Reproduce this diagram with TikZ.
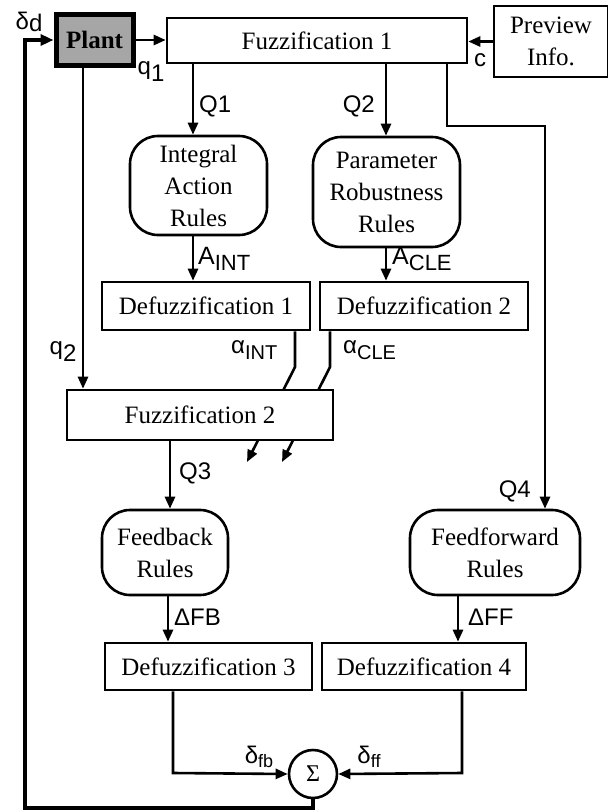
\documentclass[tikz,border=0pt]{standalone}
\usepackage{fontspec}
\setmainfont{Liberation Serif}
\newfontfamily\lsans{Liberation Sans}
\usetikzlibrary{arrows.meta}
\begin{document}
\begin{tikzpicture}[x=1pt,y=-1pt,
  box/.style={draw, line width=2.6pt, fill=white, inner sep=0pt, align=center, font=\fontsize{25}{32}\selectfont},
  rbox/.style={box, rounded corners=28pt},
  lbl/.style={inner sep=0pt, font=\lsans\fontsize{24}{24}\selectfont},
  con/.style={line width=2.6pt},
  arr/.style={con, -{Triangle[length=12pt,width=10pt]}},
  loopline/.style={line width=4.5pt, -{Triangle[length=13pt,width=11pt]}}
]
\useasboundingbox (0,0) rectangle (608,812);
% nodes
\node[box, line width=5pt, fill=black!35, minimum width=77pt, minimum height=51pt, font=\bfseries\fontsize{25}{30}\selectfont] (plant) at (94.5,40) {Plant};
\node[box, minimum width=300pt, minimum height=45pt] (fz1) at (317,40.5) {Fuzzification 1};
\node[box, minimum width=114pt, minimum height=71pt] (prev) at (551,41.5) {Preview\\Info.};
\node[rbox, minimum width=137pt, minimum height=99pt] (iar) at (198.5,185.5) {Integral\\Action\\Rules};
\node[rbox, minimum width=147pt, minimum height=110pt] (prr) at (386.5,192) {Parameter\\Robustness\\Rules};
\node[box, minimum width=208pt, minimum height=48pt] (df1) at (206,306) {Defuzzification 1};
\node[box, minimum width=208pt, minimum height=48pt] (df2) at (424,306) {Defuzzification 2};
\node[rbox, minimum width=126pt, minimum height=85pt] (fbr) at (165,552.5) {Feedback\\Rules};
\node[rbox, minimum width=170pt, minimum height=85pt] (ffr) at (495,552.5) {Feedforward\\Rules};
\node[box, minimum width=207pt, minimum height=47pt] (df3) at (208.5,666.5) {Defuzzification 3};
\node[box, minimum width=204pt, minimum height=47pt] (df4) at (424,666.5) {Defuzzification 4};
\node[circle, draw, line width=2.6pt, fill=white, minimum size=48pt, inner sep=0pt, font=\fontsize{24}{24}\selectfont] (sum) at (313,774) {Σ};
% helper coordinates
\coordinate (xq1) at (193,0);
\coordinate (xq2) at (386,0);
\coordinate (xq4) at (447,0);
\coordinate (k4) at (447,126);
\coordinate (k4b) at (545,126);
\coordinate (xp) at (83,0);
\coordinate (ka1) at (295,367);
\coordinate (ea1) at (247,462);
\coordinate (ka2) at (330,367);
\coordinate (ea2) at (282,462);
\coordinate (xq3) at (170,0);
\coordinate (xfb) at (168,0);
\coordinate (xff) at (458,0);
\coordinate (k3) at (173,773);
\coordinate (k4c) at (462,773);
\coordinate (lb) at (313,808);
\coordinate (lc) at (25,808);
\coordinate (ld) at (25,40);
% alpha lines pass under Fuzzification 2
\draw[arr] (df1.south -| ka1) -- (ka1) -- (ea1);
\draw[arr] (df2.south -| ka2) -- (ka2) -- (ea2);
\node[box, minimum width=266pt, minimum height=50pt] (fz2) at (200,415) {Fuzzification 2};
% connectors
\draw[arr] (plant.east) -- (plant.east -| fz1.west);
\draw[arr] (prev.west) -- (prev.west -| fz1.east);
\draw[arr] (fz1.south -| xq1) -- (iar.north -| xq1);
\draw[arr] (fz1.south -| xq2) -- (prr.north -| xq2);
\draw[arr] (fz1.south -| xq4) -- (k4) -- (k4b) -- (ffr.north -| k4b);
\draw[arr] (plant.south -| xp) -- (fz2.north -| xp);
\draw[arr] (iar.south -| xq1) -- (df1.north -| xq1);
\draw[arr] (prr.south -| xq2) -- (df2.north -| xq2);
\draw[arr] (fz2.south -| xq3) -- (fbr.north -| xq3);
\draw[arr] (fbr.south -| xfb) -- (df3.north -| xfb);
\draw[arr] (ffr.south -| xff) -- (df4.north -| xff);
\draw[arr] (df3.south -| k3) -- (k3) -- (sum.west);
\draw[arr] (df4.south -| k4c) -- (k4c) -- (sum.east);
\draw[loopline] (sum.south) -- (lb) -- (lc) -- (ld) -- (plant.west);
% labels
\node[lbl] (ldd) at (29,22) {δ\raisebox{-2pt}{d}};
\node[lbl] (lq1) at (151,72) {q\raisebox{-7pt}{1}};
\node[lbl] (lc) at (480,60) {c};
\node[lbl, anchor=west] (lQ1) at (199,106) {Q1};
\node[lbl, anchor=east] (lQ2) at (375,106) {Q2};
\node[lbl] (lq2) at (63,352) {q\raisebox{-7pt}{2}};
\node[lbl, anchor=west, font=\lsans\fontsize{25}{25}\selectfont] (laint) at (198,259) {A\raisebox{-6pt}{\fontsize{22}{22}\selectfont INT}};
\node[lbl, anchor=west, font=\lsans\fontsize{25}{25}\selectfont] (lacle) at (392,259) {A\raisebox{-6pt}{\fontsize{22}{22}\selectfont CLE}};
\node[lbl, anchor=west] (lalint) at (231,350) {α\raisebox{-6pt}{\fontsize{20}{20}\selectfont INT}};
\node[lbl, anchor=west] (lalcle) at (343,350) {α\raisebox{-6pt}{\fontsize{20}{20}\selectfont CLE}};
\node[lbl, anchor=west] (lQ3) at (179,473) {Q3};
\node[lbl, anchor=east] (lQ4) at (531,491) {Q4};
\node[lbl, anchor=west] (ldfb) at (174,617) {ΔFB};
\node[lbl, anchor=west] (ldff) at (468,617) {ΔFF};
\node[lbl] (ldefb) at (259,757) {δ\raisebox{-4pt}{\fontsize{18}{18}\selectfont fb}};
\node[lbl] (ldeff) at (369,757) {δ\raisebox{-4pt}{\fontsize{18}{18}\selectfont ff}};
\end{tikzpicture}
\end{document}
